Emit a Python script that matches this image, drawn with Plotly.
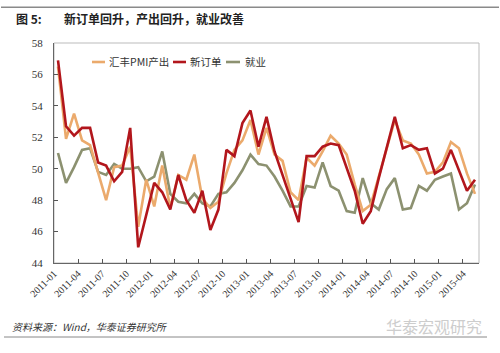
import plotly.graph_objects as go

# ---- data (monthly, 2011-01 .. 2015-05) ----
months = [f"{y}-{m:02d}" for y in range(2011, 2016) for m in range(1, 13)][:53]

pmi_output = [56.5, 51.9, 53.5, 51.8, 51.5, 49.7, 48.0, 50.1, 50.2, 51.4,
              46.3, 49.3, 47.6, 50.2, 47.5, 49.6, 49.3, 50.9, 48.1, 47.5,
              47.9, 49.7, 51.2, 51.8, 53.1, 50.9, 52.6, 50.9, 50.5, 48.5,
              48.0, 50.7, 50.2, 51.1, 52.1, 51.6, 50.9, 49.0, 47.3, 47.7,
              49.5, 51.2, 53.1, 51.8, 51.6, 50.9, 49.7, 49.8, 50.4, 51.7,
              51.3, 49.7, 48.4]

new_orders = [56.9, 52.7, 52.1, 52.6, 52.6, 50.4, 50.2, 49.2, 49.8, 52.6,
              45.0, 47.0, 49.1, 48.5, 47.4, 49.6, 48.0, 47.2, 48.6, 46.1,
              47.4, 51.2, 50.8, 52.9, 53.7, 51.4, 53.3, 51.1, 49.6, 48.1,
              46.6, 50.8, 50.8, 51.4, 51.6, 51.5, 50.1, 48.6, 46.5, 47.3,
              49.4, 51.3, 53.3, 51.3, 51.5, 51.2, 51.3, 49.7, 50.0, 51.2,
              49.9, 48.6, 49.3]

employment = [51.0, 49.1, 50.1, 51.2, 51.3, 49.8, 49.6, 50.3, 50.0, 50.0,
              50.1, 49.2, 49.5, 51.1, 48.4, 47.9, 47.8, 48.4, 47.8, 47.6,
              48.4, 48.5, 49.1, 49.9, 50.9, 50.3, 50.2, 49.5, 48.6, 47.6,
              47.6, 48.9, 48.8, 50.4, 48.9, 48.6, 47.3, 47.2, 49.4, 47.8,
              47.4, 48.7, 49.4, 47.4, 47.5, 48.9, 48.6, 49.3, 49.5, 49.7,
              47.4, 47.8, 49.0]

tick_labels = ["2011-01", "2011-04", "2011-07", "2011-10",
               "2012-01", "2012-04", "2012-07", "2012-10",
               "2013-01", "2013-04", "2013-07", "2013-10",
               "2014-01", "2014-04", "2014-07", "2014-10",
               "2015-01", "2015-04"]

series_names = ["汇丰PMI产出", "新订单", "就业"]
series_colors = ["#EBAA6C", "#B2161C", "#8C9170"]
series_values = [pmi_output, new_orders, employment]

# ---- geometry helpers (plot area 54..479 x 43..263 px) ----
L, R, T, B = 54, 479, 43, 263
W, H = R - L, B - T
def px(x):
    return (x - L) / W
def py(y):
    return (B - y) / H

# ---- figure ----
x_idx = list(range(len(months)))
tick_pos = [months.index(t) - 0.5 for t in tick_labels]

fig = go.Figure()
for i in [2, 0, 1]:  # draw employment first, new orders on top
    fig.add_trace(go.Scatter(
        x=x_idx, y=series_values[i], name=series_names[i], mode="lines",
        line=dict(color=series_colors[i], width=2.6),
        customdata=months,
        hovertemplate="%{customdata}: %{y}<extra>" + series_names[i] + "</extra>",
        showlegend=False,
    ))

serif = "Liberation Serif, Times New Roman, serif"
cjk = "Noto Sans CJK SC, sans-serif"

fig.update_layout(
    width=500, height=353,
    margin=dict(l=L, r=500 - R, t=T, b=353 - B),
    paper_bgcolor="white", plot_bgcolor="white",
    showlegend=False,
    xaxis=dict(
        range=[-0.5, len(months) - 0.5],
        tickmode="array", tickvals=tick_pos, ticktext=tick_labels,
        tickangle=-45, ticks="inside", ticklen=4, tickcolor="#555555",
        tickfont=dict(family=serif, size=10, color="#333333"),
        showgrid=False, zeroline=False,
        showline=True, linecolor="#666666", linewidth=1,
    ),
    yaxis=dict(
        range=[44, 58], dtick=2, tick0=44,
        ticks="inside", ticklen=4, tickcolor="#555555",
        tickfont=dict(family=serif, size=11, color="#333333"),
        ticklabelstandoff=8,
        showgrid=False, zeroline=False,
        showline=True, linecolor="#666666", linewidth=1,
    ),
    hovermode="x unified",
)

# light frame (top / right)
fig.add_shape(type="rect", xref="paper", yref="paper", x0=0, y0=0, x1=1, y1=1,
              line=dict(color="#BBBBBB", width=1), layer="below")

# manual legend (short line samples)
leg_y = py(62)
leg_items = [(92, 105, 107), (173, 186, 188), (226, 240, 243)]
for (s0, s1, tx), name, col in zip(leg_items, series_names, series_colors):
    fig.add_shape(type="line", xref="paper", yref="paper",
                  x0=px(s0), x1=px(s1), y0=leg_y, y1=leg_y,
                  line=dict(color=col, width=2.6))
    fig.add_annotation(text=name, xref="paper", yref="paper",
                       x=px(tx), y=leg_y, xanchor="left", yanchor="middle",
                       showarrow=False, font=dict(family=cjk, size=10.5, color="#333333"))

# header / footer rules
fig.add_shape(type="rect", xref="paper", yref="paper",
              x0=px(1), x1=px(499), y0=py(8), y1=py(6.5),
              fillcolor="#8A8A8A", line=dict(width=0), layer="above")
fig.add_shape(type="line", xref="paper", yref="paper",
              x0=px(4), x1=px(487), y0=py(337), y1=py(337),
              line=dict(color="#888888", width=1))

fig.add_annotation(text="<b>图 5:</b>", xref="paper", yref="paper",
                   x=px(14), y=py(18), xanchor="left", yanchor="middle",
                   showarrow=False, font=dict(family=cjk, size=12, color="#222222"))
fig.add_annotation(text="<b>新订单回升，产出回升，就业改善</b>", xref="paper", yref="paper",
                   x=px(62), y=py(18), xanchor="left", yanchor="middle",
                   showarrow=False, font=dict(family=cjk, size=12, color="#222222"))
fig.add_annotation(text="<i>资料来源：Wind，华泰证券研究所</i>", xref="paper", yref="paper",
                   x=px(10), y=py(326), xanchor="left", yanchor="middle",
                   showarrow=False, font=dict(family=cjk, size=10, color="#333333"))
fig.add_annotation(text="华泰宏观研究", xref="paper", yref="paper",
                   x=px(484), y=py(326), xanchor="right", yanchor="middle",
                   showarrow=False, font=dict(family=cjk, size=16, color="#CDCDCD"))

fig.write_html("out.html")
